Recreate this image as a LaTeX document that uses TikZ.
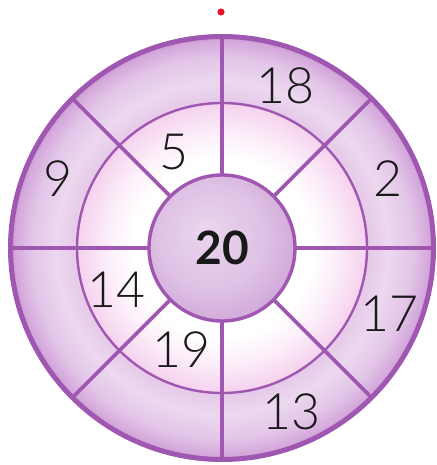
\documentclass[tikz,border=0pt]{standalone}
\usepackage{fontspec}
\setmainfont{Lato Light}
\newfontfamily\boldnum{Lato Bold}
\definecolor{ringline}{HTML}{A057B2}
\definecolor{reddot}{HTML}{E0102F}
\definecolor{pinkA}{HTML}{FCEEF9}
\definecolor{pinkB}{HTML}{F5D2EE}
\definecolor{lavA}{HTML}{E6C9E9}
\definecolor{lavB}{HTML}{ECD8EF}
\definecolor{lavC}{HTML}{E3C6E8}
\definecolor{lavD}{HTML}{D4A8DB}
\definecolor{lavE}{HTML}{C68ED0}
\definecolor{cenA}{HTML}{EBD6EF}
\definecolor{cenB}{HTML}{DFC2E5}
\definecolor{cenC}{HTML}{D3ADDB}
\pgfdeclareradialshading{ringshade}{\pgfpointorigin}{%
 color(0bp)=(white);
 color(10.5bp)=(white);
 color(13.5bp)=(pinkA);
 color(16.9bp)=(pinkB);
 color(17.1bp)=(lavA);
 color(19.5bp)=(lavB);
 color(22.3bp)=(lavC);
 color(24.3bp)=(lavD);
 color(25bp)=(lavE);
 color(50bp)=(lavE)}
\pgfdeclareradialshading{centershade}{\pgfpoint{-6bp}{6bp}}{%
 color(0bp)=(cenA);
 color(18bp)=(cenB);
 color(27bp)=(cenC);
 color(50bp)=(cenC)}
\tikzset{
  spoke/.style={draw=ringline, line width=3.6pt},
  midcirc/.style={draw=ringline, line width=2.4pt},
  incirc/.style={draw=ringline, line width=3.4pt},
  outcirc/.style={draw=ringline, line width=5pt},
  num/.style={font=\fontsize{50}{50}\selectfont, text=black!90, inner sep=0pt},
  bignum/.style={font=\boldnum\fontsize{46}{46}\selectfont, text=black!90, inner sep=0pt},
}
\begin{document}
\begin{tikzpicture}[x=1pt, y=-1pt]
\useasboundingbox (0,0) rectangle (436,465);
\coordinate (C) at (222,248);
% fills
\shade[shading=ringshade] (C) circle[radius=213];
\shade[shading=centershade] (C) circle[radius=73];
% spokes
\foreach \a in {0,45,...,315}
  \draw[spoke] ([shift={(\a:73)}]C) -- ([shift={(\a:213)}]C);
% circles
\draw[midcirc] (C) circle[radius=145];
\draw[incirc] (C) circle[radius=73];
\draw[outcirc] (C) circle[radius=211.5];
% red dot
\coordinate (dot) at (221,12);
\fill[reddot] (dot) circle[radius=3.6];
% numbers
\node[bignum] (n20) at (222.5,248) {20};
\node[num] (n18) at (285,86) {18};
\node[num] (n5) at (174,152) {5};
\node[num] (n9) at (58,179) {9};
\node[num] (n2) at (388,179) {2};
\node[num] (n14) at (116,290) {14};
\node[num] (n17) at (389,314) {17};
\node[num] (n19) at (181,350) {19};
\node[num] (n13) at (291,412) {13};
\end{tikzpicture}
\end{document}
